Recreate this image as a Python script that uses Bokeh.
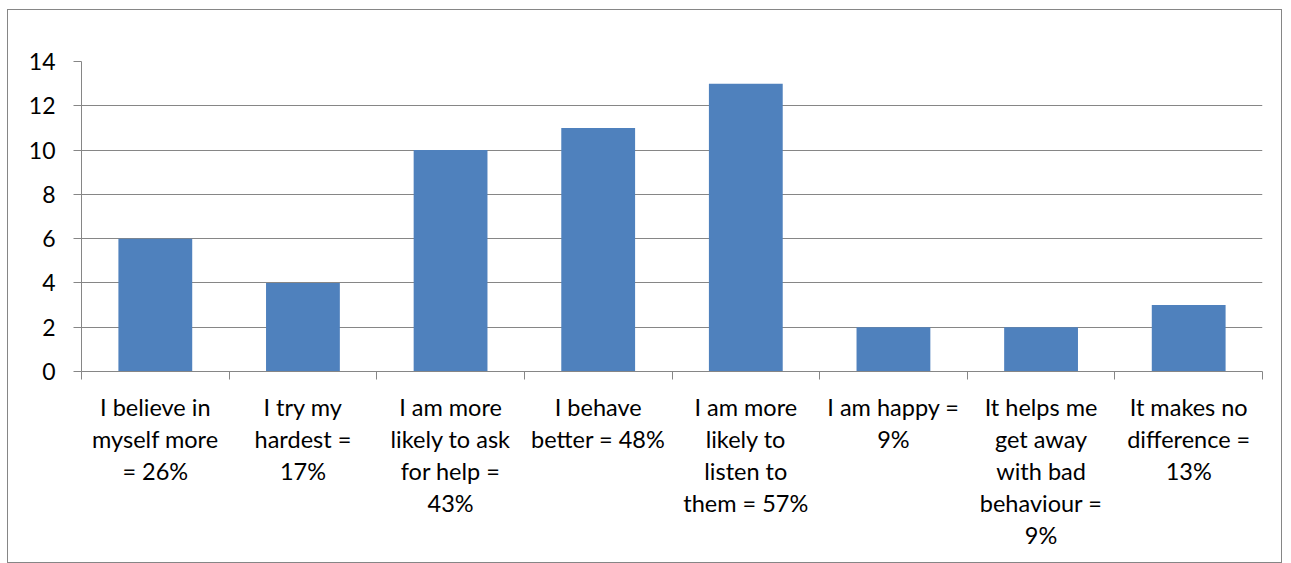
from bokeh.plotting import figure
from bokeh.models import FixedTicker, Range1d, ColumnDataSource
from bokeh.embed import file_html
from bokeh.resources import INLINE

categories = [
    "I believe in\nmyself more\n= 26%",
    "I try my\nhardest =\n17%",
    "I am more\nlikely to ask\nfor help =\n43%",
    "I behave\nbetter = 48%",
    "I am more\nlikely to\nlisten to\nthem = 57%",
    "I am happy =\n9%",
    "It helps me\nget away\nwith bad\nbehaviour =\n9%",
    "It makes no\ndifference =\n13%",
]
values = [6, 4, 10, 11, 13, 2, 2, 3]
y_ticks = [0, 2, 4, 6, 8, 10, 12, 14]

n = len(categories)
centers = [i + 0.5 for i in range(n)]
bounds = list(range(n + 1))

FONT = "Lato"
GRAY = "#868686"

p = figure(width=1275, height=554, output_backend="svg", toolbar_location=None,
           x_range=Range1d(0, n), y_range=Range1d(0, 14),
           min_border_left=73, min_border_top=51, min_border_right=21, min_border_bottom=193)
p.styles = {"border": "1px solid #868686", "margin-left": "7px", "margin-top": "9px"}
p.outline_line_color = None
p.background_fill_color = "white"
p.border_fill_color = "white"

src = ColumnDataSource(dict(x=centers, top=values))
p.vbar(x="x", top="top", width=0.5, bottom=0, source=src, fill_color="#4F81BD", line_color=None)

p.xgrid.visible = False
p.ygrid.ticker = FixedTicker(ticks=y_ticks)
p.ygrid.grid_line_color = GRAY
p.ygrid.grid_line_width = 1

p.yaxis.ticker = FixedTicker(ticks=y_ticks)
p.yaxis.axis_line_color = GRAY
p.yaxis.major_tick_line_color = GRAY
p.yaxis.major_tick_out = 8
p.yaxis.major_tick_in = 0
p.yaxis.minor_tick_line_color = None
p.yaxis.major_label_text_font = FONT
p.yaxis.major_label_text_font_size = "23px"
p.yaxis.major_label_text_color = "black"
p.yaxis.major_label_standoff = 18

p.xaxis.ticker = FixedTicker(ticks=centers, minor_ticks=bounds)
p.xaxis.major_label_overrides = {c: lab for c, lab in zip(centers, categories)}
p.xaxis.axis_line_color = GRAY
p.xaxis.major_tick_line_color = None
p.xaxis.major_tick_out = 0
p.xaxis.minor_tick_line_color = GRAY
p.xaxis.minor_tick_out = 8
p.xaxis.minor_tick_in = 0
p.xaxis.major_label_text_font = FONT
p.xaxis.major_label_text_font_size = "23.5px"
p.xaxis.major_label_text_color = "black"
p.xaxis.major_label_text_line_height = 1.15
p.xaxis.major_label_standoff = 13

open("out.html", "w").write(file_html(p, INLINE))
